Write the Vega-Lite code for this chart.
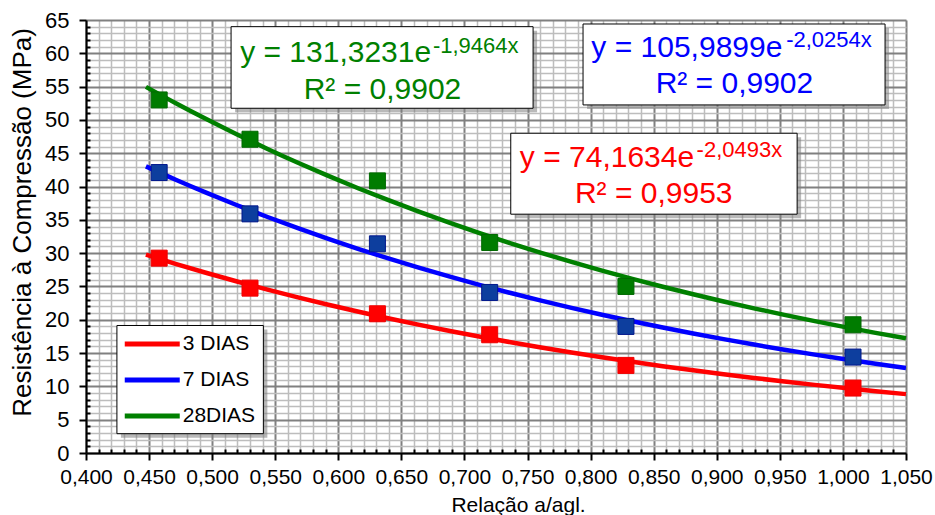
{
  "$schema": "https://vega.github.io/schema/vega-lite/v6.json",
  "width": 820,
  "height": 433,
  "autosize": {"type": "none"},
  "padding": {"left": 86, "top": 20, "right": 29, "bottom": 62},
  "background": "white",
  "config": {"view": {"stroke": null}, "font": "Liberation Sans", "axis": {"labelOverlap": false, "labelFlush": false}},
  "datasets": {
    "points": [
      {"serie": "3 DIAS", "x": 0.458, "y": 29.25},
      {"serie": "3 DIAS", "x": 0.530, "y": 24.75},
      {"serie": "3 DIAS", "x": 0.631, "y": 20.9},
      {"serie": "3 DIAS", "x": 0.720, "y": 17.75},
      {"serie": "3 DIAS", "x": 0.828, "y": 13.15},
      {"serie": "3 DIAS", "x": 1.008, "y": 9.75},
      {"serie": "7 DIAS", "x": 0.458, "y": 42.1},
      {"serie": "7 DIAS", "x": 0.530, "y": 35.9},
      {"serie": "7 DIAS", "x": 0.631, "y": 31.4},
      {"serie": "7 DIAS", "x": 0.720, "y": 24.1},
      {"serie": "7 DIAS", "x": 0.828, "y": 19.0},
      {"serie": "7 DIAS", "x": 1.008, "y": 14.4},
      {"serie": "28DIAS", "x": 0.458, "y": 53.0},
      {"serie": "28DIAS", "x": 0.530, "y": 47.1},
      {"serie": "28DIAS", "x": 0.631, "y": 40.85},
      {"serie": "28DIAS", "x": 0.720, "y": 31.6},
      {"serie": "28DIAS", "x": 0.828, "y": 25.0},
      {"serie": "28DIAS", "x": 1.008, "y": 19.25}
    ],
    "boxes": [
      {"serie": "28DIAS", "x1": 0.515, "x2": 0.7544, "y1": 51.75, "y2": 64.0},
      {"serie": "7 DIAS", "x1": 0.794, "x2": 1.0334, "y1": 52.25, "y2": 64.4},
      {"serie": "3 DIAS", "x1": 0.7367, "x2": 0.9637, "y1": 35.85, "y2": 48.0},
      {"serie": "legenda", "x1": 0.4245, "x2": 0.5406, "y1": 2.9, "y2": 19.14}
    ],
    "eqs": [
      {"serie": "28DIAS", "kind": "main", "x": 0.5222, "y": 58.74, "text": "y = 131,3231e"},
      {"serie": "28DIAS", "kind": "sup", "x": 0.675, "y": 60.0, "text": "-1,9464x"},
      {"serie": "28DIAS", "kind": "r2", "x": 0.635, "y": 53.15, "text": "R² = 0,9902"},
      {"serie": "7 DIAS", "kind": "main", "x": 0.8006, "y": 59.49, "text": "y = 105,9899e"},
      {"serie": "7 DIAS", "kind": "sup", "x": 0.955, "y": 61.0, "text": "-2,0254x"},
      {"serie": "7 DIAS", "kind": "r2", "x": 0.914, "y": 54.0, "text": "R² = 0,9902"},
      {"serie": "3 DIAS", "kind": "main", "x": 0.7439, "y": 43.0, "text": "y = 74,1634e"},
      {"serie": "3 DIAS", "kind": "sup", "x": 0.884, "y": 44.4, "text": "-2,0493x"},
      {"serie": "3 DIAS", "kind": "r2", "x": 0.850, "y": 37.5, "text": "R² = 0,9953"}
    ]
  },
  "layer": [
    {
      "data": {"name": "boxes"},
      "mark": {"type": "rect", "color": "#7F7F7F", "opacity": 0.55, "xOffset": 4, "x2Offset": 4, "yOffset": 4, "y2Offset": 4},
      "encoding": {
        "x": {"field": "x1", "type": "quantitative", "title": "Relação a/agl.",
          "scale": {"domain": [0.4, 1.05], "nice": false, "zero": false},
          "axis": {"orient": "bottom", "tickCount": 200,
            "values": [0.4,0.41,0.42,0.43,0.44,0.45,0.46,0.47,0.48,0.49,0.5,0.51,0.52,0.53,0.54,0.55,0.56,0.57,0.58,0.59,0.6,0.61,0.62,0.63,0.64,0.65,0.66,0.67,0.68,0.69,0.7,0.71,0.72,0.73,0.74,0.75,0.76,0.77,0.78,0.79,0.8,0.81,0.82,0.83,0.84,0.85,0.86,0.87,0.88,0.89,0.9,0.91,0.92,0.93,0.94,0.95,0.96,0.97,0.98,0.99,1,1.01,1.02,1.03,1.04,1.05],
            "grid": true,
            "gridColor": {"condition": {"test": "abs(datum.value * 20 - round(datum.value * 20)) < 0.001", "value": "#808080"}, "value": "#BDBDBD"},
            "gridWidth": {"condition": {"test": "abs(datum.value * 20 - round(datum.value * 20)) < 0.001", "value": 2}, "value": 1.5},
            "tickSize": {"condition": {"test": "abs(datum.value * 20 - round(datum.value * 20)) < 0.001", "value": 7}, "value": -4},
            "domainColor": "#000000", "domainWidth": 2, "tickColor": "#000000", "tickWidth": 2,
            "labelFontSize": 21, "labelColor": "#000000", "labelPadding": 6, "labelFlush": false, "labelOverlap": false,
            "labelExpr": "abs(datum.value * 20 - round(datum.value * 20)) < 0.001 ? replace(format(datum.value, '.3f'), '.', ',') : ''",
            "titleFontSize": 21, "titleFontWeight": "normal", "titleColor": "#000000",
            "titleX": 432, "titleY": 58.5, "titleBaseline": "alphabetic", "titleAlign": "center"}},
        "x2": {"field": "x2"},
        "y": {"field": "y1", "type": "quantitative", "title": "Resistência à Compressão (MPa)",
          "scale": {"domain": [0, 65], "nice": false, "zero": true},
          "axis": {"orient": "left", "tickCount": 200,
            "values": [0,1,2,3,4,5,6,7,8,9,10,11,12,13,14,15,16,17,18,19,20,21,22,23,24,25,26,27,28,29,30,31,32,33,34,35,36,37,38,39,40,41,42,43,44,45,46,47,48,49,50,51,52,53,54,55,56,57,58,59,60,61,62,63,64,65],
            "grid": true,
            "gridColor": {"condition": {"test": "datum.value % 5 === 0", "value": "#808080"}, "value": "#BDBDBD"},
            "gridWidth": {"condition": {"test": "datum.value % 5 === 0", "value": 2}, "value": 1.5},
            "tickSize": {"condition": {"test": "datum.value % 5 === 0", "value": 7}, "value": -4},
            "domainColor": "#000000", "domainWidth": 2, "tickColor": "#000000", "tickWidth": 2,
            "labelFontSize": 22, "labelColor": "#000000", "labelPadding": 10, "labelFlush": false, "labelOverlap": false,
            "labelExpr": "round(datum.value) % 5 === 0 ? format(round(datum.value), 'd') : ''",
            "titleFontSize": 26, "titleFontWeight": "normal", "titleColor": "#000000",
            "titleX": -64, "titleY": 202, "titleBaseline": "middle", "titleAlign": "center", "titleAngle": 270}},
        "y2": {"field": "y2"}
      }
    },
    {
      "data": {"name": "boxes"},
      "mark": {"type": "rect", "fill": "#FFFFFF", "stroke": "#000000", "strokeWidth": 1},
      "encoding": {
        "x": {"field": "x1", "type": "quantitative", "title": "Relação a/agl."},
        "x2": {"field": "x2"},
        "y": {"field": "y1", "type": "quantitative", "title": "Resistência à Compressão (MPa)"},
        "y2": {"field": "y2"}
      }
    },
    {
      "data": {"name": "points"},
      "transform": [
        {"regression": "y", "on": "x", "groupby": ["serie"], "method": "exp", "extent": [0.4475, 1.05]}
      ],
      "mark": {"type": "line", "strokeWidth": 4.5, "interpolate": "monotone"},
      "encoding": {
        "x": {"field": "x", "type": "quantitative", "title": "Relação a/agl."},
        "y": {"field": "y", "type": "quantitative", "title": "Resistência à Compressão (MPa)"},
        "color": {"field": "serie", "type": "nominal",
          "scale": {"domain": ["3 DIAS", "7 DIAS", "28DIAS"], "range": ["#FF0000", "#0000FF", "#008000"]},
          "legend": {"orient": "none", "legendX": 49.75, "legendY": 307.5, "title": null, "padding": 0,
            "labelFontSize": 21, "labelColor": "#000000", "labelOffset": 14,
            "symbolType": "M-2,0H2", "symbolStrokeWidth": 5, "symbolSize": 756, "rowPadding": 9}}
      }
    },
    {
      "data": {"name": "points"},
      "mark": {"type": "point", "shape": "square", "filled": true, "opacity": 1, "size": 256, "strokeWidth": 1},
      "encoding": {
        "x": {"field": "x", "type": "quantitative", "title": "Relação a/agl."},
        "y": {"field": "y", "type": "quantitative", "title": "Resistência à Compressão (MPa)"},
        "fill": {"field": "serie", "type": "nominal", "legend": null,
          "scale": {"domain": ["3 DIAS", "7 DIAS", "28DIAS"], "range": ["#FF0000", "#0D3E9E", "#007C00"]}},
        "stroke": {"field": "serie", "type": "nominal", "legend": null,
          "scale": {"domain": ["3 DIAS", "7 DIAS", "28DIAS"], "range": ["#F00000", "#00168C", "#006A00"]}}
      }
    },
    {
      "data": {"name": "eqs"},
      "transform": [{"filter": "datum.kind == 'main'"}],
      "mark": {"type": "text", "align": "left", "baseline": "alphabetic", "fontSize": 30},
      "encoding": {
        "x": {"field": "x", "type": "quantitative", "title": "Relação a/agl."},
        "y": {"field": "y", "type": "quantitative", "title": "Resistência à Compressão (MPa)"},
        "text": {"field": "text"},
        "color": {"field": "serie", "type": "nominal", "legend": null}
      }
    },
    {
      "data": {"name": "eqs"},
      "transform": [{"filter": "datum.kind == 'sup'"}],
      "mark": {"type": "text", "align": "left", "baseline": "alphabetic", "fontSize": 22},
      "encoding": {
        "x": {"field": "x", "type": "quantitative", "title": "Relação a/agl."},
        "y": {"field": "y", "type": "quantitative", "title": "Resistência à Compressão (MPa)"},
        "text": {"field": "text"},
        "color": {"field": "serie", "type": "nominal", "legend": null}
      }
    },
    {
      "data": {"name": "eqs"},
      "transform": [{"filter": "datum.kind == 'r2'"}],
      "mark": {"type": "text", "align": "center", "baseline": "alphabetic", "fontSize": 30},
      "encoding": {
        "x": {"field": "x", "type": "quantitative", "title": "Relação a/agl."},
        "y": {"field": "y", "type": "quantitative", "title": "Resistência à Compressão (MPa)"},
        "text": {"field": "text"},
        "color": {"field": "serie", "type": "nominal", "legend": null}
      }
    }
  ]
}
